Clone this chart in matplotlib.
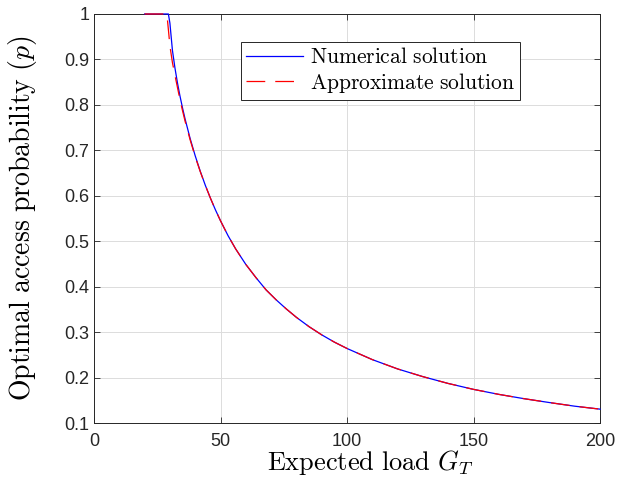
"""Optimal access probability vs expected load: numerical vs approximate solution."""

import matplotlib

matplotlib.use("Agg")
import matplotlib.pyplot as plt
import matplotlib.ticker as mticker

# values
load_num = [20, 25, 29.4, 30.0, 30.5, 31, 32, 33, 34, 35, 36, 38, 40, 42, 44, 46, 48, 50,
            53, 56, 60, 64, 68, 72, 76, 80, 85, 90, 95, 100, 110, 120, 130, 140, 150,
            160, 170, 180, 190, 200]
p_num = [1.0, 1.0, 1.0, 0.98, 0.95, 0.92, 0.881, 0.848, 0.819, 0.793, 0.769, 0.726,
         0.688, 0.654, 0.623, 0.595, 0.569, 0.545, 0.512, 0.483, 0.449, 0.420, 0.393,
         0.371, 0.351, 0.3325, 0.312, 0.294, 0.278, 0.264, 0.2395, 0.219, 0.202, 0.187,
         0.174, 0.163, 0.1535, 0.145, 0.137, 0.1305]

load_apx = [20, 25, 28.8, 29.5, 30, 31, 32, 33, 34, 35, 36, 38, 40, 42, 44, 46, 48, 50,
            53, 56, 60, 64, 68, 72, 76, 80, 85, 90, 95, 100, 110, 120, 130, 140, 150,
            160, 170, 180, 190, 200]
p_apx = [1.0, 1.0, 1.0, 0.96, 0.93, 0.893, 0.865, 0.838, 0.811, 0.787, 0.764, 0.723,
         0.686, 0.653, 0.623, 0.595, 0.569, 0.545, 0.512, 0.483, 0.449, 0.420, 0.393,
         0.371, 0.351, 0.3325, 0.312, 0.294, 0.278, 0.264, 0.2395, 0.219, 0.202, 0.187,
         0.174, 0.163, 0.1535, 0.145, 0.137, 0.1305]

x_ticks = [0, 50, 100, 150, 200]
y_ticks = [0.1, 0.2, 0.3, 0.4, 0.5, 0.6, 0.7, 0.8, 0.9, 1.0]

plt.rcParams["mathtext.fontset"] = "cm"
plt.rcParams["font.family"] = ["Liberation Sans", "DejaVu Sans"]

fig = plt.figure(figsize=(6.36, 4.79), dpi=100)
ax = fig.add_axes((0.1478, 0.1169, 0.7956, 0.8539))

ax.plot(load_num, p_num, color="#0000ff", lw=0.9, clip_on=False, zorder=4,
        label=r"$\mathrm{Numerical\ solution}$")
ax.plot(load_apx, p_apx, color="#ff0000", lw=0.9, ls=(0, (15, 8)), clip_on=False, zorder=5,
        label=r"$\mathrm{Approximate\ solution}$")

ax.set_xlim(0, 200)
ax.set_ylim(0.1, 1.0)
ax.set_xticks(x_ticks)
ax.set_yticks(y_ticks)
ax.yaxis.set_major_formatter(mticker.FuncFormatter(lambda v, _: f"{v:g}"))
ax.tick_params(direction="in", length=4, width=0.6, labelsize=13, colors="#262626",
               top=True, right=True)
ax.tick_params(axis="x", pad=7)
ax.grid(True, color="#dcdcdc", lw=0.7)
ax.set_axisbelow(True)
for spine in ax.spines.values():
    spine.set_color("#262626")
    spine.set_linewidth(0.7)

ax.set_xlabel(r"$\mathrm{Expected\ load}\ G_T$", fontsize=19)
ax.set_ylabel(r"$\mathrm{Optimal\ access\ probability}\ (p)$", fontsize=20)
ax.xaxis.set_label_coords(0.545, -0.062)
ax.yaxis.set_label_coords(-0.108, 0.501)

leg = ax.legend(loc="upper left", bbox_to_anchor=(0.29, 0.9315), fontsize=15.5,
                fancybox=False, framealpha=1, edgecolor="#262626", handlelength=2.65,
                borderpad=0.25, labelspacing=0.1, handletextpad=0.3, borderaxespad=0)
leg.get_frame().set_linewidth(0.7)

fig.savefig("out.png", dpi=100)
